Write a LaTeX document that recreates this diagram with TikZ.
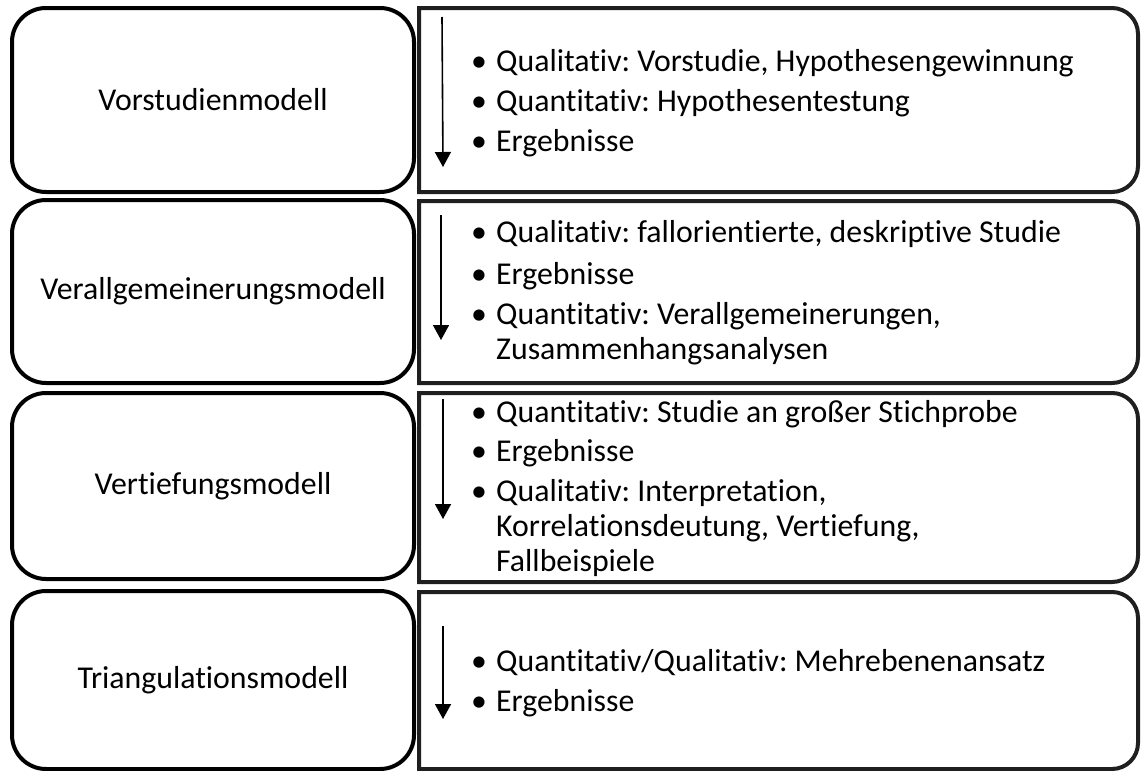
\documentclass[tikz,border=0pt]{standalone}
\usepackage{fontspec}
\setmainfont{Carlito}[Ligatures=NoCommon]
\usetikzlibrary{arrows.meta}
\frenchspacing
\begin{document}
\begin{tikzpicture}[x=1pt,y=-1pt,
  leftbox/.style={draw=black,line width=4pt,rounded corners=34pt,minimum width=402pt,inner sep=0pt,font=\fontsize{31.8}{36}\selectfont},
  rightline/.style={draw=black!88,line width=4pt},
  flow/.style={line width=1.6pt,-{Triangle[length=15pt,width=16pt]}},
  bul/.style={inner sep=0pt,anchor=base,font=\fontsize{31.8}{36}\selectfont},
  item/.style={inner sep=0pt,anchor=base west,font=\fontsize{31.8}{36}\selectfont}]
\useasboundingbox (0,0) rectangle (1141,771);
% left boxes
\node[leftbox,minimum height=184pt] (L1) at (213,100) {Vorstudienmodell};
\node[leftbox,minimum height=183pt] (L2) at (213,291.5) {Verallgemeinerungsmodell};
\node[leftbox,minimum height=186pt] (L3) at (213,486) {Vertiefungsmodell};
\node[leftbox,minimum height=178pt] (L4) at (213,680) {Triangulationsmodell};
% right boxes
\def\rr{26}
\draw[rightline] (419,8) -- (1138-\rr,8) arc(-90:0:\rr) -- (1138,192-\rr) arc(0:90:\rr) -- (419,192) -- cycle;
\draw[rightline] (419,201) -- (1138-\rr,201) arc(-90:0:\rr) -- (1138,383-\rr) arc(0:90:\rr) -- (419,383) -- cycle;
\draw[rightline] (419,393) -- (1138-\rr,393) arc(-90:0:\rr) -- (1138,582-\rr) arc(0:90:\rr) -- (419,582) -- cycle;
\draw[rightline] (419,592) -- (1138-\rr,592) arc(-90:0:\rr) -- (1138,769-\rr) arc(0:90:\rr) -- (419,769) -- cycle;
% arrows
\coordinate (a1s) at (442,17); \coordinate (a1e) at (443,167);
\coordinate (a2s) at (441,215); \coordinate (a2e) at (441,340);
\coordinate (a3s) at (443,399); \coordinate (a3e) at (443,519);
\coordinate (a4s) at (443,626); \coordinate (a4e) at (443,719);
\draw[flow] (a1s) -- (a1e);
\draw[flow] (a2s) -- (a2e);
\draw[flow] (a3s) -- (a3e);
\draw[flow] (a4s) -- (a4e);
% row 1
\node[bul] (b11) at (479,71) {•}; \node[item] (t11) at (496,71) {Qualitativ: Vorstudie, Hypothesengewinnung};
\node[bul] (b12) at (479,111) {•}; \node[item] (t12) at (496,111) {Quantitativ: Hypothesentestung};
\node[bul] (b13) at (479,151) {•}; \node[item] (t13) at (496,151) {Ergebnisse};
% row 2
\node[bul] (b21) at (479,242) {•}; \node[item] (t21) at (496,242) {Qualitativ: fallorientierte, deskriptive Studie};
\node[bul] (b22) at (479,284) {•}; \node[item] (t22) at (496,284) {Ergebnisse};
\node[bul] (b23) at (479,324) {•}; \node[item] (t23) at (496,324) {Quantitativ: Verallgemeinerungen,};
\node[item] (t24) at (496,359) {Zusammenhangsanalysen};
% row 3
\node[bul] (b31) at (479,422) {•}; \node[item] (t31) at (496,422) {Quantitativ: Studie an großer Stichprobe};
\node[bul] (b32) at (479,461) {•}; \node[item] (t32) at (496,461) {Ergebnisse};
\node[bul] (b33) at (479,501) {•}; \node[item] (t33) at (496,501) {Qualitativ: Interpretation,};
\node[item] (t34) at (496,536) {Korrelationsdeutung, Vertiefung,};
\node[item] (t35) at (496,571) {Fallbeispiele};
% row 4
\node[bul] (b41) at (479,671) {•}; \node[item] (t41) at (496,671) {Quantitativ/Qualitativ: Mehrebenenansatz};
\node[bul] (b42) at (479,711) {•}; \node[item] (t42) at (496,711) {Ergebnisse};
\end{tikzpicture}
\end{document}
